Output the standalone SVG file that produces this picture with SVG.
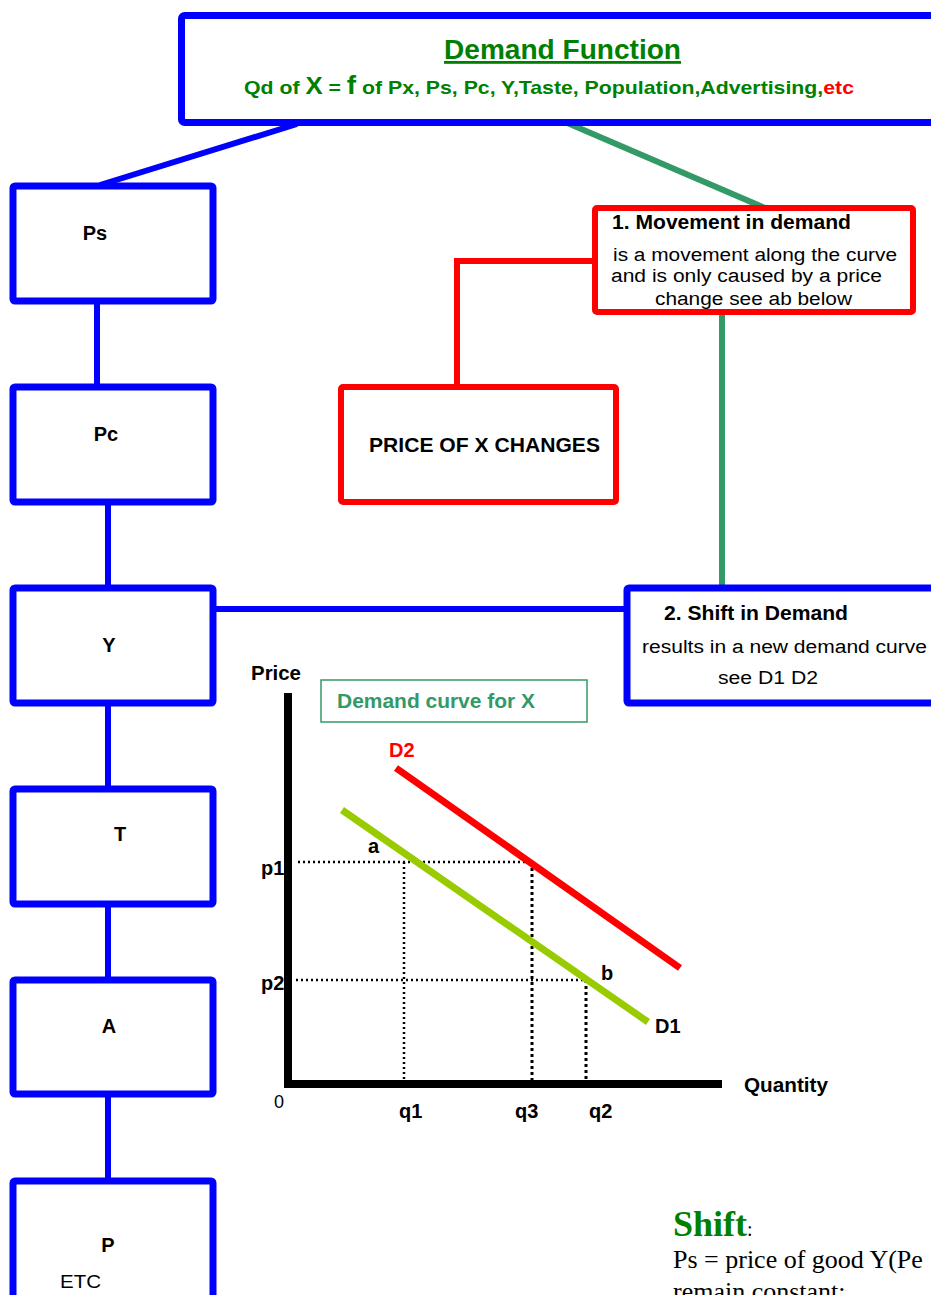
<svg xmlns="http://www.w3.org/2000/svg" width="931" height="1295" viewBox="0 0 931 1295">
<style>
.bx{fill:#fff;stroke:#0000ff;stroke-width:7}
.rb{fill:#fff;stroke:#ff0000;stroke-width:6}
.bl{stroke:#0000ff;stroke-width:6;fill:none}
.rl{stroke:#ff0000;stroke-width:6;fill:none}
.gl{stroke:#339966;stroke-width:6;fill:none}
.t{font-family:"Liberation Sans",Arial,sans-serif;font-size:18px;fill:#000}
.b{font-weight:bold;font-size:20px}
.dot{stroke:#000;stroke-width:2.5;stroke-dasharray:2 3;fill:none}
.dot2{stroke:#000;stroke-width:3;stroke-dasharray:3 3;fill:none}
</style>
<rect width="931" height="1295" fill="#fff"/>
<g id="connectors">
<line class="bl" x1="297" y1="124" x2="100" y2="185"/>
<line class="bl" x1="97" y1="302" x2="97" y2="387"/>
<line class="bl" x1="108" y1="503" x2="108" y2="588"/>
<line class="bl" x1="108" y1="704" x2="108" y2="789"/>
<line class="bl" x1="108" y1="905" x2="108" y2="980"/>
<line class="bl" x1="108" y1="1095" x2="108" y2="1180"/>
<line class="bl" x1="214" y1="609" x2="626" y2="609"/>
<line class="gl" x1="565" y1="122" x2="765" y2="208"/>
<line class="gl" x1="722" y1="313" x2="722" y2="588"/>
<polyline class="rl" points="594,261 457,261 457,388"/>
</g>
<g id="demand-function">
<rect class="bx" x="181.5" y="15.5" width="760" height="107" rx="3"/>
<text class="t" x="444" y="59" textLength="237" lengthAdjust="spacingAndGlyphs" style="font-size:28px;font-weight:bold;fill:#008000;text-decoration:underline">Demand Function</text>
<text class="t" x="244" y="94" style="fill:#008000;font-size:19px;font-weight:bold" textLength="610" lengthAdjust="spacingAndGlyphs">Qd of <tspan style="font-size:23px">X</tspan> = <tspan style="font-size:25px">f</tspan> of Px, Ps, Pc, Y,Taste, Population,Advertising,<tspan style="fill:#ff0000">etc</tspan></text>
</g>
<g id="ps"><rect class="bx" x="13" y="186" width="200" height="115" rx="2"/><text class="t b" x="95" y="240" text-anchor="middle">Ps</text></g>
<g id="pc"><rect class="bx" x="13" y="387" width="200" height="115" rx="2"/><text class="t b" x="106" y="441" text-anchor="middle">Pc</text></g>
<g id="y"><rect class="bx" x="13" y="588" width="200" height="115" rx="2"/><text class="t b" x="109" y="652" text-anchor="middle">Y</text></g>
<g id="t"><rect class="bx" x="13" y="789" width="200" height="115" rx="2"/><text class="t b" x="120" y="841" text-anchor="middle">T</text></g>
<g id="a"><rect class="bx" x="13" y="980" width="200" height="114" rx="2"/><text class="t b" x="109" y="1033" text-anchor="middle">A</text></g>
<g id="p"><rect class="bx" x="13" y="1181" width="200" height="125" rx="2"/><text class="t b" x="108" y="1252" text-anchor="middle">P</text><text class="t" x="60" y="1288" textLength="41" lengthAdjust="spacingAndGlyphs">ETC</text></g>
<g id="movement">
<rect class="rb" x="595" y="208" width="318" height="104" rx="2"/>
<text class="t b" x="612" y="229" textLength="239" lengthAdjust="spacingAndGlyphs">1. Movement in demand</text>
<text class="t" x="613" y="261" textLength="284" lengthAdjust="spacingAndGlyphs">is a movement along the curve</text>
<text class="t" x="611" y="282" textLength="271" lengthAdjust="spacingAndGlyphs">and is only caused by a price</text>
<text class="t" x="655" y="305" textLength="197" lengthAdjust="spacingAndGlyphs">change see ab below</text>
</g>
<g id="price-change">
<rect class="rb" x="341" y="387" width="275" height="115" rx="2"/>
<text class="t b" x="369" y="452" textLength="231" lengthAdjust="spacingAndGlyphs">PRICE OF X CHANGES</text>
</g>
<g id="shift">
<rect class="bx" x="627" y="588" width="320" height="115" rx="2"/>
<text class="t b" x="664" y="620" textLength="184" lengthAdjust="spacingAndGlyphs">2. Shift in Demand</text>
<text class="t" x="642" y="653" textLength="285" lengthAdjust="spacingAndGlyphs">results in a new demand curve</text>
<text class="t" x="718" y="684" textLength="100" lengthAdjust="spacingAndGlyphs">see D1 D2</text>
</g>
<g id="graph">
<rect x="321" y="680" width="266" height="42" fill="#fff" stroke="#339966" stroke-width="1.5"/>
<text class="t b" x="337" y="708" style="fill:#339966" textLength="198" lengthAdjust="spacingAndGlyphs">Demand curve for X</text>
<line class="dot" x1="298" y1="862" x2="532" y2="862"/>
<line class="dot" x1="296" y1="980" x2="586" y2="980"/>
<line class="dot" x1="404" y1="862" x2="404" y2="1080"/>
<line class="dot2" x1="532" y1="862" x2="532" y2="1080"/>
<line class="dot2" x1="586" y1="980" x2="586" y2="1080"/>
<line x1="396" y1="768" x2="680" y2="968" stroke="#ff0000" stroke-width="7"/>
<line x1="342" y1="810" x2="648" y2="1022" stroke="#99cc00" stroke-width="7"/>
<line x1="288" y1="693" x2="288" y2="1088" stroke="#000" stroke-width="8"/>
<line x1="284" y1="1084" x2="722" y2="1084" stroke="#000" stroke-width="8"/>
<text class="t b" x="251" y="680" textLength="50" lengthAdjust="spacingAndGlyphs">Price</text>
<text class="t b" x="389" y="757" style="fill:#ff0000">D2</text>
<text class="t b" x="655" y="1033">D1</text>
<text class="t b" x="368" y="853">a</text>
<text class="t b" x="601" y="980">b</text>
<text class="t b" x="261" y="875">p1</text>
<text class="t b" x="261" y="990">p2</text>
<text class="t" x="274" y="1108">0</text>
<text class="t b" x="399" y="1118">q1</text>
<text class="t b" x="515" y="1118">q3</text>
<text class="t b" x="589" y="1118">q2</text>
<text class="t b" x="744" y="1092" textLength="84" lengthAdjust="spacingAndGlyphs">Quantity</text>
</g>
<g id="shift-note" style="font-family:'Liberation Serif','Times New Roman',serif">
<text x="673" y="1236" style="font-size:36px;font-weight:bold;fill:#008000">Shift<tspan style="font-size:20px;font-weight:normal;fill:#000">:</tspan></text>
<text x="673" y="1268" style="font-size:26px;fill:#000">Ps = price of good Y(Pe</text>
<text x="673" y="1300" style="font-size:26px;fill:#000">remain constant;</text>
</g>
</svg>
